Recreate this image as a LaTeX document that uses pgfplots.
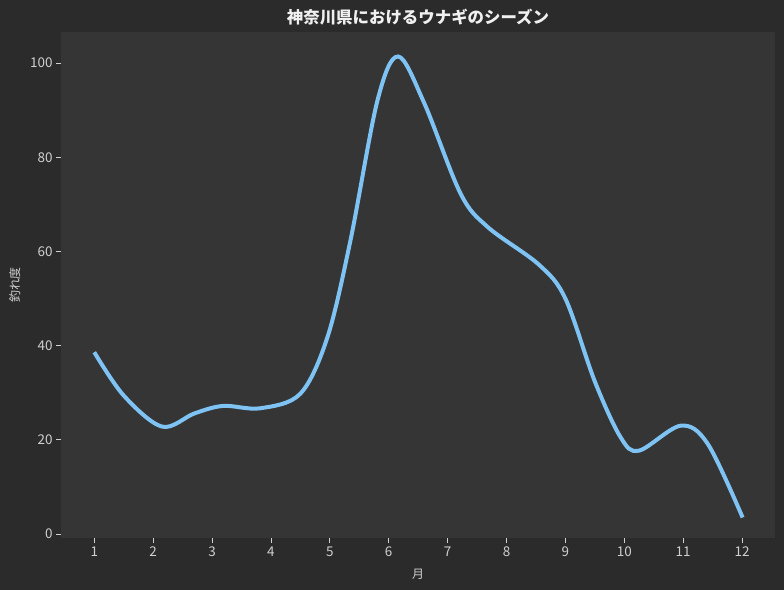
\documentclass[border=0pt]{standalone}
\usepackage{pgfplots}
\pgfplotsset{compat=1.18}
\usepackage{fontspec}
\setmainfont{Noto Sans CJK JP}
\definecolor{outerbg}{HTML}{2B2B2B}
\definecolor{innerbg}{HTML}{353535}
\definecolor{tickgray}{HTML}{D0D0D0}
\definecolor{eel}{HTML}{7EC3F3}
\begin{document}
\begin{tikzpicture}
	% page background: 784 x 590
	\fill[outerbg] (-61bp,-52bp) rectangle (723bp,538bp);
	\begin{axis}[
		scale only axis,
		width=714bp,
		height=506bp,
		xmin=0.435, xmax=12.56,
		ymin=-0.85, ymax=106.6,
		xtick={1,2,...,12},
		ytick={0,20,40,60,80,100},
		axis background/.style={fill=innerbg},
		axis line style={draw=none},
		tick align=outside,
		major tick length=5bp,
		tick style={tickgray, line width=0.8bp},
		xtick pos=bottom, ytick pos=left,
		/pgf/number format/assume math mode=true,
		tick label style={font=\fontsize{13.5}{15}\selectfont, text=tickgray},
		title={\bfseries 神奈川県におけるウナギのシーズン},
		title style={font=\fontsize{16.5}{18}\selectfont, text=white!94!black, at={(axis description cs:0.5,1)}, anchor=south, yshift=-3bp},
		xlabel={月},
		ylabel={釣れ度},
		every axis x label/.style={at={(axis description cs:0.5,0)}, anchor=north, yshift=-28bp,
			font=\fontsize{12}{14}\selectfont, text=tickgray},
		every axis y label/.style={at={(axis description cs:0,0.5)}, rotate=90, anchor=south, yshift=37bp,
			font=\fontsize{12}{14}\selectfont, text=tickgray},
	]
	\addplot[eel, line width=4bp, smooth, tension=0.55, line cap=butt] coordinates {
		(1.00,38.6)
		(1.50,29.4)
		(2.15,22.8)
		(2.70,25.6)
		(3.19,27.2)
		(3.82,26.7)
		(4.50,29.8)
		(4.96,41.8)
		(5.35,62.3)
		(5.81,92.1)
		(6.16,101.4)
		(6.60,91.6)
		(7.22,72.3)
		(7.68,65.2)
		(8.55,57.2)
		(9.00,50.0)
		(9.50,32.4)
		(9.94,20.5)
		(10.25,17.7)
		(10.96,23.0)
		(11.42,19.1)
		(12.01,3.5)
	};
	\end{axis}
\end{tikzpicture}
\end{document}
